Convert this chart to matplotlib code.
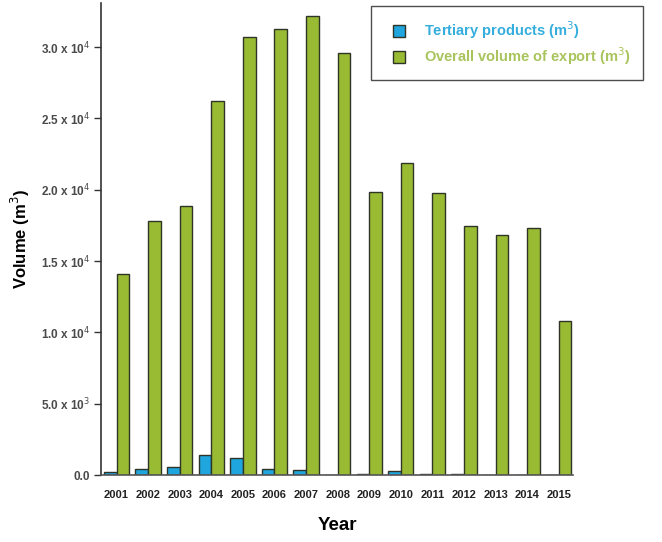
import numpy as np
import matplotlib
matplotlib.use("Agg")
import matplotlib.pyplot as plt
from matplotlib.lines import Line2D
from matplotlib.ticker import FixedLocator, FixedFormatter

plt.rcParams['font.family'] = ['Liberation Sans', 'DejaVu Sans']

# export volumes per year (m3)
years = ['2001', '2002', '2003', '2004', '2005', '2006', '2007', '2008',
         '2009', '2010', '2011', '2012', '2013', '2014', '2015']
tertiary = [190, 440, 540, 1400, 1190, 440, 350, 0,
            100, 280, 100, 80, 0, 0, 0]
overall = [14090, 17830, 18830, 26220, 30680, 31240, 32170, 29600,
           19840, 21870, 19770, 17450, 16820, 17290, 10770]

yticks = [0, 5000, 10000, 15000, 20000, 25000, 30000]
ylabels = ['0.0', r'5.0 x 10$^3$', r'1.0 x 10$^4$', r'1.5 x 10$^4$',
           r'2.0 x 10$^4$', r'2.5 x 10$^4$', r'3.0 x 10$^4$']

blue = '#1fa6df'
green = '#99bb33'
edge = '#2e3527'

fig = plt.figure(figsize=(6.62, 5.42), dpi=100)
ax = fig.add_axes([0.1526, 0.1236, 0.713, 0.871])

x = np.arange(len(years))
w = 0.4
ax.bar(x - w / 2, tertiary, width=w, color=blue, edgecolor=edge, linewidth=1.0)
ax.bar(x + w / 2, overall, width=w, color=green, edgecolor=edge, linewidth=1.0)

ax.set_xlim(-0.49, 14.45)
ax.set_ylim(0, 33100)

ax.spines['top'].set_visible(False)
ax.spines['right'].set_visible(False)
ax.spines['left'].set_color('#333333')
ax.spines['bottom'].set_color('#555555')
ax.spines['left'].set_linewidth(1.2)
ax.spines['bottom'].set_linewidth(1.2)

ax.yaxis.set_major_locator(FixedLocator(yticks))
ax.yaxis.set_major_formatter(FixedFormatter(ylabels))
ax.tick_params(axis='y', direction='out', length=5, width=1.0, color='#333333',
               labelsize=8.5, labelcolor='#4a4a4a', pad=3)
for lab in ax.get_yticklabels():
    lab.set_fontweight('bold')

ax.set_xticks(x)
ax.set_xticklabels(years, fontsize=8, fontweight='bold', color='#222222')
ax.tick_params(axis='x', length=0, pad=11)

ax.set_xlabel('Year', fontsize=13.5, fontweight='bold', labelpad=12)
ax.set_ylabel('Volume (m$^3$)', fontsize=12, fontweight='bold', labelpad=6)

# legend with small square swatches
handles = [
    Line2D([], [], marker='s', linestyle='none', markersize=8,
           markerfacecolor=blue, markeredgecolor=edge, markeredgewidth=1.0),
    Line2D([], [], marker='s', linestyle='none', markersize=8,
           markerfacecolor=green, markeredgecolor=edge, markeredgewidth=1.0),
]
names = ['Tertiary products (m$^3$)', 'Overall volume of export (m$^3$)']
leg = ax.legend(handles, names, loc='upper left',
                bbox_to_anchor=(371 / 662, 1 - 6 / 542),
                bbox_transform=fig.transFigure, frameon=True, fancybox=False,
                edgecolor='#222222', fontsize=10.5, handlelength=2.0,
                handletextpad=0.7, borderpad=0.9, borderaxespad=0,
                labelspacing=0.3)
leg.get_frame().set_linewidth(1.0)
for txt, c in zip(leg.get_texts(), ['#35aedd', '#a9c45c']):
    txt.set_color(c)
    txt.set_fontweight('bold')

fig.savefig('out.png', dpi=100)
